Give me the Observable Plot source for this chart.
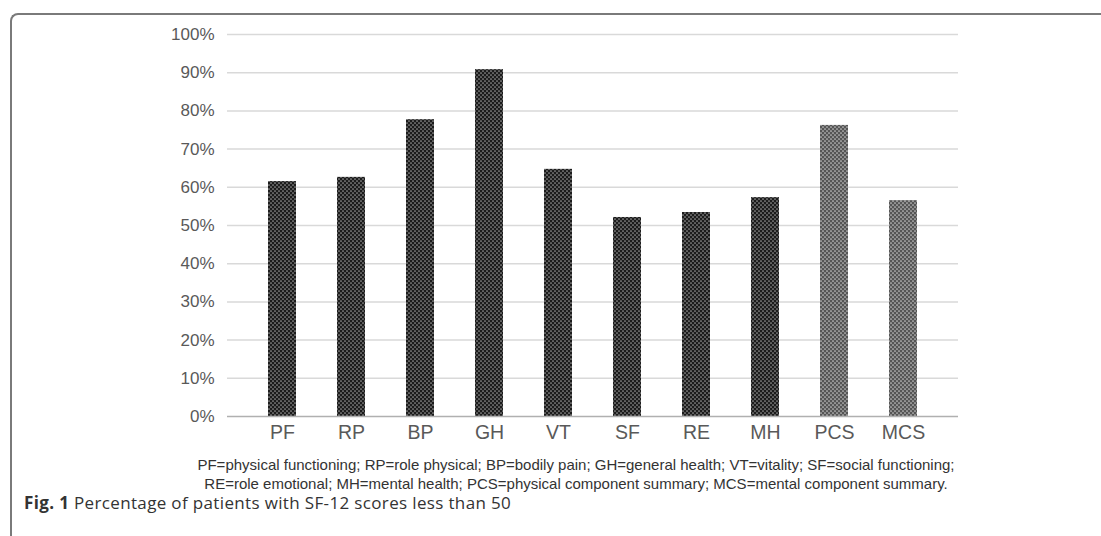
<!DOCTYPE html>
<html><head><meta charset="utf-8">
<script src="https://cdn.jsdelivr.net/npm/d3@7"></script>
<script src="https://cdn.jsdelivr.net/npm/@observablehq/plot@0.6"></script>
<style>
body{margin:0;background:#fff;width:1101px;height:536px;overflow:hidden;position:relative;font-family:"Liberation Sans",Arial,sans-serif;}
#frame{position:absolute;left:10px;top:13px;width:1200px;height:600px;border-top:2px solid #7a7a7a;border-left:2px solid #7a7a7a;border-top-left-radius:8px;}
#chart{position:absolute;left:0;top:0;}
#legend{position:absolute;left:0;width:1152px;top:455px;text-align:center;font-size:15px;line-height:19px;color:#333;}
#caption{position:absolute;left:24px;top:492px;font-family:"Open Sans",sans-serif;font-size:17px;letter-spacing:0.35px;line-height:22px;color:#333;}
</style></head>
<body>
<div id="frame"></div>
<div id="chart"></div>
<div id="legend">PF=physical functioning; RP=role physical; BP=bodily pain; GH=general health; VT=vitality; SF=social functioning;<br>RE=role emotional; MH=mental health; PCS=physical component summary; MCS=mental component summary.</div>
<div id="caption"><b>Fig. 1</b> Percentage of patients with SF-12 scores less than 50</div>
<script>
const categories = ["PF","RP","BP","GH","VT","SF","RE","MH","PCS","MCS"];
const values = [61.5, 62.6, 77.7, 90.8, 64.7, 52.1, 53.4, 57.3, 76.2, 56.5];
const summaryCats = ["PCS","MCS"];
const yTicks = [0,10,20,30,40,50,60,70,80,90,100];

const data = categories.map((c,i)=>({cat:c, value:values[i]}));
const subscale = data.filter(d=>!summaryCats.includes(d.cat));
const summary = data.filter(d=>summaryCats.includes(d.cat));

const svg = Plot.plot({
  width: 1101, height: 450,
  marginTop: 34, marginBottom: 34, marginLeft: 227, marginRight: 143,
  style: {fontFamily: '"Liberation Sans", Arial, sans-serif', background: "transparent"},
  x: {domain: categories, padding: 0.59, label: null},
  y: {domain: [0,100], label: null},
  marks: [
    Plot.gridY(yTicks.filter(t=>t>0), {stroke:"#d9d9d9", strokeOpacity:1, strokeWidth:1.5}),
    Plot.barY(subscale, {x:"cat", y:"value", fill:"url(#dotsDark)"}),
    Plot.barY(summary, {x:"cat", y:"value", fill:"url(#dotsLight)"}),
    Plot.ruleY([0], {stroke:"#b0b0b0", strokeWidth:1.5}),
    Plot.axisY({ticks: yTicks, tickFormat: d=>d+"%", tickSize:0, tickPadding:13, fontSize:17, fill:"#595959", label:null}),
    Plot.axisX({tickSize:0, tickPadding:9, fontSize:19.5, fill:"#595959", label:null})
  ]
});
const defs = d3.select(svg).insert("defs", ":first-child");
function pat(id, bg, dot){
  const p = defs.append("pattern").attr("id", id).attr("width",4).attr("height",4).attr("patternUnits","userSpaceOnUse");
  p.append("rect").attr("width",4).attr("height",4).attr("fill",bg);
  p.append("circle").attr("cx",1).attr("cy",1).attr("r",0.85).attr("fill",dot);
  p.append("circle").attr("cx",3).attr("cy",3).attr("r",0.85).attr("fill",dot);
}
pat("dotsDark", "#1c1c1c", "#9a9a9a");
pat("dotsLight", "#555", "#c8c8c8");
document.getElementById("chart").appendChild(svg);
</script>
</body></html>
